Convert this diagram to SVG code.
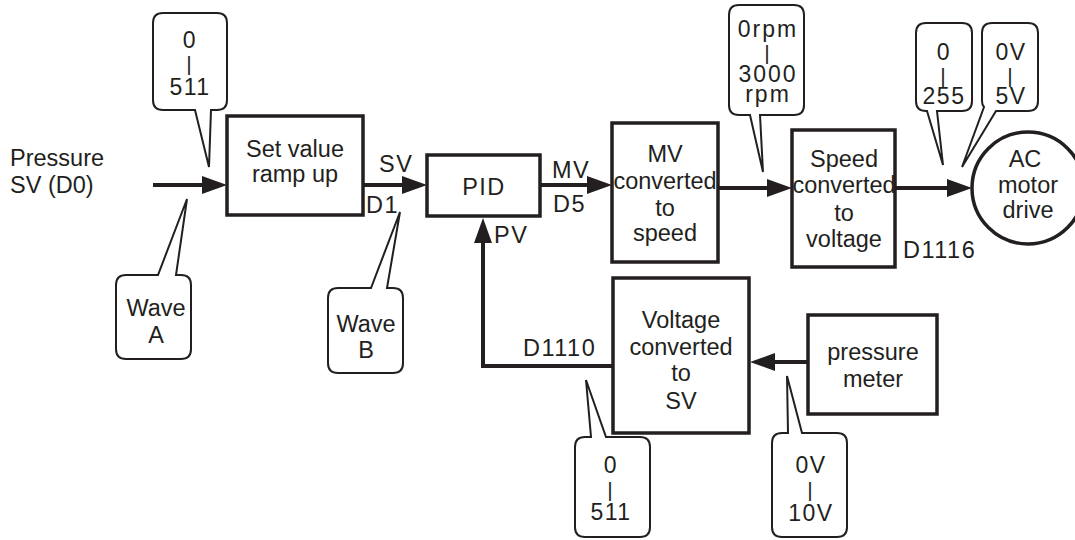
<svg xmlns="http://www.w3.org/2000/svg" width="1075" height="540" viewBox="0 0 1075 540">
<style>
text{font-family:"Liberation Sans",Arial,sans-serif;font-size:23.5px;fill:#231f20}
.c{text-anchor:middle}
.s{font-size:23px;letter-spacing:1.5px}
.bar{font-size:21px;letter-spacing:0}
.ls{letter-spacing:1.5px}
.box{fill:#fff;stroke:#231f20;stroke-width:3.5}
.bub{fill:#fff;stroke:#231f20;stroke-width:2}
.edge{fill:none;stroke:#231f20;stroke-width:4}
</style>
<defs>
<marker id="ah" markerUnits="userSpaceOnUse" markerWidth="26" markerHeight="20" refX="15" refY="9" orient="auto">
<path d="M0,0 L25,9 L0,18 Z" fill="#231f20"/>
</marker>
</defs>
<rect width="1075" height="540" fill="#fff"/>

<g id="connectors">
<path class="edge" d="M153,185 H217" marker-end="url(#ah)"/>
<path class="edge" d="M363,185 H417" marker-end="url(#ah)"/>
<path class="edge" d="M540,185 H602" marker-end="url(#ah)"/>
<path class="edge" d="M718,188 H782" marker-end="url(#ah)"/>
<path class="edge" d="M895,188 H962" marker-end="url(#ah)"/>
<path class="edge" d="M808,362 H760" marker-end="url(#ah)"/>
<path class="edge" d="M613,366 H483 V228" marker-end="url(#ah)"/>
</g>

<g id="input">
<text x="10" y="166">Pressure</text>
<text x="10" y="193">SV (D0)</text>
</g>

<g id="setvalue">
<rect class="box" x="227" y="116" width="136" height="99"/>
<text class="c" x="295" y="157">Set value</text>
<text class="c" x="295" y="182">ramp up</text>
</g>

<g id="pid">
<rect class="box" x="427" y="155" width="113" height="61"/>
<text class="c ls" x="484" y="195">PID</text>
</g>

<g id="labels">
<text class="ls" x="379" y="172">SV</text>
<text class="ls" x="366" y="213">D1</text>
<text class="ls" x="552" y="178">MV</text>
<text class="ls" x="553" y="212">D5</text>
<text class="ls" x="494" y="243">PV</text>
<text class="ls" x="903" y="258">D1116</text>
<text class="ls" x="523" y="356">D1110</text>
</g>

<g id="mvspeed">
<rect class="box" x="612" y="123" width="106" height="139"/>
<text class="c" x="665" y="162">MV</text>
<text class="c" x="665" y="189">converted</text>
<text class="c" x="665" y="216">to</text>
<text class="c" x="665" y="241">speed</text>
</g>

<g id="speedvolt">
<rect class="box" x="792" y="130" width="103" height="137"/>
<text class="c" x="844" y="167">Speed</text>
<text class="c" x="844" y="193">converted</text>
<text class="c" x="844" y="221">to</text>
<text class="c" x="844" y="247">voltage</text>
</g>

<g id="motor">
<circle class="box" cx="1028" cy="188" r="56"/>
<text class="c" x="1025" y="167">AC</text>
<text class="c" x="1028" y="193">motor</text>
<text class="c" x="1028" y="218">drive</text>
</g>

<g id="voltsv">
<rect class="box" x="613" y="278" width="136" height="155"/>
<text class="c" x="681" y="328">Voltage</text>
<text class="c" x="681" y="355">converted</text>
<text class="c" x="681" y="381">to</text>
<text class="c" x="681" y="409">SV</text>
</g>

<g id="meter">
<rect class="box" x="808" y="315" width="129" height="99"/>
<text class="c" x="873" y="360">pressure</text>
<text class="c" x="873" y="387">meter</text>
</g>

<g id="bubble-top-511">
<path class="bub" d="M163,13 H217 Q227,13 227,23 V100 Q227,110 217,110 H211 L209,167 L195,110 H163 Q153,110 153,100 V23 Q153,13 163,13 Z"/>
<text class="c s"><tspan x="190" y="48">0</tspan><tspan class="bar" x="189" y="71">|</tspan><tspan x="190" y="95">511</tspan></text>
</g>

<g id="bubble-waveA">
<path class="bub" d="M126,275 H158 L187,199 L176,275 H181 Q191,275 191,285 V349 Q191,359 181,359 H126 Q116,359 116,349 V285 Q116,275 126,275 Z"/>
<text class="c"><tspan x="156" y="316">Wave</tspan><tspan x="156" y="343">A</tspan></text>
</g>

<g id="bubble-waveB">
<path class="bub" d="M338,288 H371 L400,212 L387,288 H393 Q403,288 403,298 V363 Q403,373 393,373 H338 Q328,373 328,363 V298 Q328,288 338,288 Z"/>
<text class="c"><tspan x="366" y="332">Wave</tspan><tspan x="366" y="358">B</tspan></text>
</g>

<g id="bubble-rpm">
<path class="bub" d="M739,5 H794 Q804,5 804,15 V105 Q804,115 794,115 H760 L763,172 L750,115 H739 Q729,115 729,105 V15 Q729,5 739,5 Z"/>
<text class="c s" style="letter-spacing:2px"><tspan x="768" y="37">0rpm</tspan><tspan class="bar" x="767" y="60">|</tspan><tspan x="768" y="82">3000</tspan><tspan x="768" y="102">rpm</tspan></text>
</g>

<g id="bubble-255">
<path class="bub" d="M926,23 H962 Q972,23 972,33 V101 Q972,111 962,111 H937 L943,165 L927,111 H926 Q916,111 916,101 V33 Q916,23 926,23 Z"/>
<text class="c s"><tspan x="944" y="60">0</tspan><tspan class="bar" x="943" y="83">|</tspan><tspan x="944" y="104">255</tspan></text>
</g>

<g id="bubble-5v">
<path class="bub" d="M992,23 H1028 Q1038,23 1038,33 V101 Q1038,111 1028,111 H996 L962,167 L984,107 Q982,105 982,101 V33 Q982,23 992,23 Z"/>
<text class="c s"><tspan x="1011" y="60">0V</tspan><tspan class="bar" x="1010" y="83">|</tspan><tspan x="1011" y="104">5V</tspan></text>
</g>

<g id="bubble-bottom-511">
<path class="bub" d="M585,437 H591 L586,380 L606,437 H640 Q650,437 650,447 V527 Q650,537 640,537 H585 Q575,537 575,527 V447 Q575,437 585,437 Z"/>
<text class="c s"><tspan x="611" y="473">0</tspan><tspan class="bar" x="610" y="497">|</tspan><tspan x="611" y="520">511</tspan></text>
</g>

<g id="bubble-10v">
<path class="bub" d="M782,433 H788 L787,376 L802,433 H837 Q847,433 847,443 V527 Q847,537 837,537 H782 Q772,537 772,527 V443 Q772,433 782,433 Z"/>
<text class="c s"><tspan x="811" y="473">0V</tspan><tspan class="bar" x="810" y="497">|</tspan><tspan x="811" y="521">10V</tspan></text>
</g>
</svg>
